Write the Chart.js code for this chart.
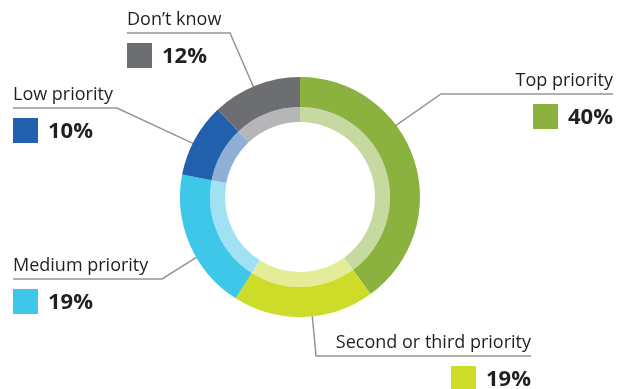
<!DOCTYPE html>
<html>
<head>
<meta charset="utf-8">
<script src="https://cdn.jsdelivr.net/npm/chart.js@4/dist/chart.umd.min.js"></script>
<style>
  html, body { margin: 0; padding: 0; background: #ffffff; }
  #wrap { width: 625px; height: 389px; position: relative; }
</style>
</head>
<body>
<div id="wrap"><canvas id="chart"></canvas></div>
<script>
// Survey answers, clockwise from 12 o'clock
const categories = ['Top priority', 'Second or third priority', 'Medium priority', 'Low priority', 'Don\u2019t know'];
const shares = [40, 19, 19, 10, 12];
const shareLabels = ['40%', '19%', '19%', '10%', '12%'];

// Ring colours: strong outer band, pale inner band
const strongColors = ['#8bb13f', '#cddc29', '#3fc7ea', '#2160ac', '#6d6e71'];
const paleColors = ['#c5d9a1', '#e4ec97', '#a0e2f4', '#8fafd6', '#b5b6b8'];

// Callout placement: underline end (x), underline y, text alignment,
// elbow x where the leader turns toward the ring, and where on the slice it lands
const callouts = [
  { x: 613, y: 94,  align: 'right', elbowX: 441, frac: 0.37 },
  { x: 531, y: 356, align: 'right', elbowX: 316, frac: 0.44 },
  { x: 13,  y: 279, align: 'left',  elbowX: 162, frac: 0.40 },
  { x: 13,  y: 108, align: 'left',  elbowX: 117, frac: 0.44 },
  { x: 127, y: 33,  align: 'left',  elbowX: 230, frac: 0.47 }
];

const TEXT_COLOR = '#231f20';
const LINE_COLOR = '#939598';
const NAME_FONT = '18px "Open Sans", sans-serif';
const VALUE_FONT = 'bold 22px "Open Sans", sans-serif';

const calloutPlugin = {
  id: 'callouts',
  beforeDatasetsDraw(chart) {
    const ctx = chart.ctx;
    const arcs = chart.getDatasetMeta(0).data;
    ctx.save();
    ctx.strokeStyle = LINE_COLOR;
    ctx.lineWidth = 1.5;
    ctx.lineJoin = 'miter';
    callouts.forEach((c, i) => {
      const arc = arcs[i];
      const p = arc.getProps(['x', 'y', 'startAngle', 'endAngle', 'outerRadius'], true);
      const a = p.startAngle + c.frac * (p.endAngle - p.startAngle);
      const r = p.outerRadius - 2;
      const ex = p.x + Math.cos(a) * r;
      const ey = p.y + Math.sin(a) * r;
      ctx.beginPath();
      ctx.moveTo(c.x, c.y);
      ctx.lineTo(c.elbowX, c.y);
      ctx.lineTo(ex, ey);
      ctx.stroke();
    });
    ctx.restore();
  },
  afterDraw(chart) {
    const ctx = chart.ctx;
    ctx.save();
    callouts.forEach((c, i) => {
      ctx.fillStyle = TEXT_COLOR;
      ctx.font = NAME_FONT;
      ctx.textBaseline = 'alphabetic';
      ctx.textAlign = c.align;
      ctx.fillText(categories[i], c.x, c.y - 8);

      ctx.font = VALUE_FONT;
      ctx.textBaseline = 'middle';
      const valueW = ctx.measureText(shareLabels[i]).width;
      const sq = 25, gap = 10;
      const midY = c.y + 10 + sq / 2;
      let sqX, textX;
      if (c.align === 'right') {
        textX = c.x;
        sqX = c.x - valueW - gap - sq;
      } else {
        sqX = c.x;
        textX = c.x + sq + gap;
      }
      ctx.fillStyle = strongColors[i];
      ctx.fillRect(sqX, c.y + 10, sq, sq);
      ctx.fillStyle = TEXT_COLOR;
      ctx.fillText(shareLabels[i], textX, midY + 1);
    });
    ctx.restore();
  }
};

new Chart(document.getElementById('chart'), {
  type: 'doughnut',
  data: {
    labels: categories,
    datasets: [
      { data: shares, backgroundColor: strongColors, borderWidth: 0, weight: 30 },
      { data: shares, backgroundColor: paleColors, borderWidth: 0, weight: 15 }
    ]
  },
  options: {
    responsive: true,
    maintainAspectRatio: false,
    animation: false,
    cutout: '62.5%',
    layout: { padding: { left: 180, right: 205, top: 77, bottom: 72 } },
    plugins: {
      legend: { display: false },
      tooltip: { enabled: false }
    }
  },
  plugins: [calloutPlugin]
});
</script>
</body>
</html>
